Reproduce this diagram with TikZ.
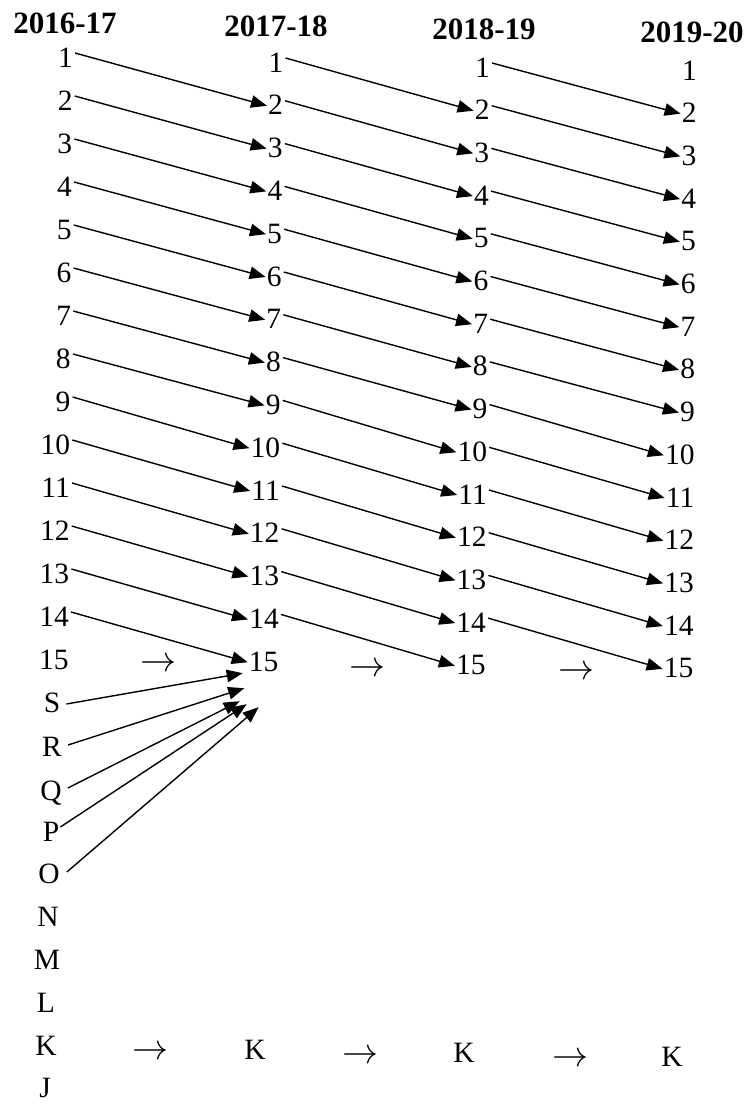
\documentclass[tikz,border=0pt]{standalone}
\usepackage{fontspec}
\usepackage{graphicx}
\setmainfont{Liberation Serif}
\usetikzlibrary{arrows.meta,calc}
\newcommand{\harr}{\resizebox{36pt}{!}{$\rightarrow$}}
\begin{document}
\begin{tikzpicture}[x=1pt,y=-1pt,
  num/.style={font=\fontsize{29.5}{30}\selectfont, inner sep=0pt, text height=20pt, text depth=0pt},
  hdr/.style={font=\fontsize{31}{32}\selectfont\bfseries, inner sep=0pt, text height=21pt, text depth=0pt},
  sym/.style={inner sep=0pt},
  arr/.style={line width=1.4pt, -{Triangle[length=16pt,width=12.5pt]}},
]
\useasboundingbox (0,0) rectangle (748,1104);
% headers
\node[hdr] (h1) at (65,23) {2016-17};
\node[hdr] (h2) at (276,26) {2017-18};
\node[hdr] (h3) at (484,29) {2018-19};
\node[hdr] (h4) at (692,32) {2019-20};
% number columns
\foreach \i in {1,...,15}{
  \node[num,anchor=east] (a\i) at ({73-0.3*(\i-1)},{57+43*(\i-1)}) {\i};
  \node[num,anchor=east] (b\i) at ({283.5-0.35*(\i-1)},{62+42.8*(\i-1)}) {\i};
  \node[num,anchor=east] (c\i) at ({490-0.3*(\i-1)},{67+42.7*(\i-1)}) {\i};
  \node[num,anchor=east] (d\i) at ({697-0.25*(\i-1)},{70+42.7*(\i-1)}) {\i};
}
% letters
\node[num] (lS) at (52,702) {S};
\node[num] (lR) at (52,746) {R};
\node[num] (lQ) at (51,790) {Q};
\node[num] (lP) at (51,831) {P};
\node[num] (lO) at (49,873) {O};
\node[num] (lN) at (48,916) {N};
\node[num] (lM) at (47,959) {M};
\node[num] (lL) at (46,1002) {L};
\node[num] (lK) at (46,1045) {K};
\node[num] (lJ) at (45,1087) {J};
\node[num] (kb) at (255,1049) {K};
\node[num] (kc) at (464,1052) {K};
\node[num] (kd) at (672,1056) {K};
% text arrows
\node[sym] (r1) at (158,665) {\harr};
\node[sym] (r2) at (367,670) {\harr};
\node[sym] (r3) at (576,673) {\harr};
\node[sym] (k1) at (150,1053) {\harr};
\node[sym] (k2) at (360,1057) {\harr};
\node[sym] (k3) at (570,1060) {\harr};
% diagonal arrows
\foreach \i [count=\j from 2] in {1,...,14}{
  \draw[arr] ($(a\i.east)+(2,-4)$) -- ($(b\j.west)+(-1,1)$);
  \draw[arr] ($(b\i.east)+(2,-4)$) -- ($(c\j.west)+(-1,1)$);
  \draw[arr] ($(c\i.east)+(2,-4)$) -- ($(d\j.west)+(-1,1)$);
}
% converging arrows
\draw[arr] ($(lS.east)+(6,2)$) -- ($(b15.west)+(-6,12)$);
\draw[arr] ($(lR.east)+(6,-1)$) -- ($(b15.west)+(-4.5,27)$);
\draw[arr] ($(lQ.east)+(6,-2)$) -- ($(b15.west)+(-9,40)$);
\draw[arr] ($(lP.east)+(1,-4)$) -- ($(b15.west)+(-2,43)$);
\draw[arr] ($(lO.east)+(7,-1)$) -- ($(b15.west)+(10,46)$);
\end{tikzpicture}
\end{document}
